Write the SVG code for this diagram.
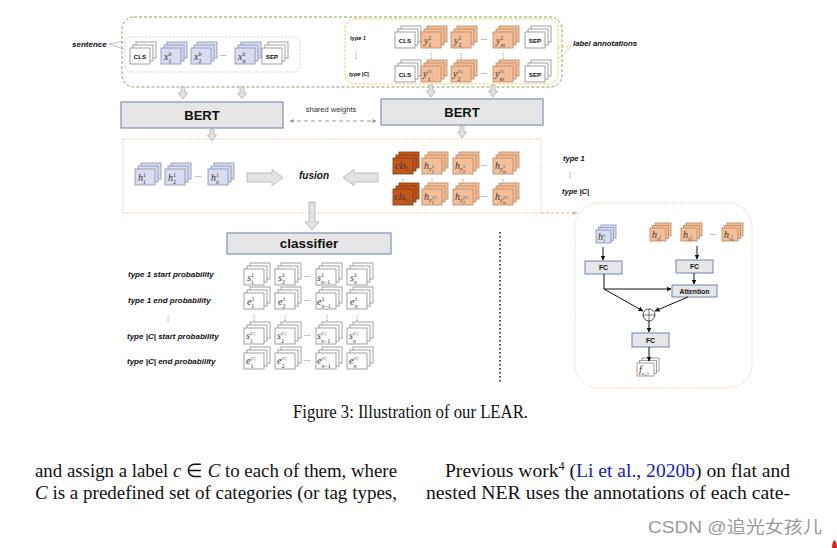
<svg xmlns="http://www.w3.org/2000/svg" width="837" height="548" viewBox="0 0 837 548">
<style>
.lbl{font-family:"Liberation Sans",Arial,sans-serif;font-weight:bold;font-style:italic;fill:#111}
.tok{font-family:"Liberation Sans",Arial,sans-serif;font-weight:bold;font-size:6.2px;fill:#111;text-anchor:middle}
.m{font-family:"Liberation Serif","Times New Roman",serif;font-style:italic;font-size:10px;fill:#333}
.sm{font-size:6px;font-style:normal}
.si{font-size:6px;font-style:italic}
.ss{font-size:4.8px;font-style:normal}
.dots{font-family:"DejaVu Sans",sans-serif;font-size:7px;fill:#333;text-anchor:middle}
.box{fill:#e6e6e6;stroke:#7f92bb;stroke-width:1.2}
.big{font-family:"Liberation Sans",Arial,sans-serif;font-weight:bold;fill:#111;text-anchor:middle}
.blk{fill:#e3e3e3;stroke:#b0b0b0;stroke-width:0.8}
.ln{stroke:#111;stroke-width:1;fill:none}
.fc{fill:#e6e6e6;stroke:#6f86b5;stroke-width:1}
.fct{font-family:"Liberation Sans",Arial,sans-serif;font-weight:bold;font-size:6.8px;fill:#111;text-anchor:middle}
.body{font-family:"Liberation Serif","Times New Roman",serif;font-size:19px;fill:#111}
.w{fill:#fff;stroke:#8a8a8a;stroke-width:0.8}
.b{fill:#d9ddef;stroke:#8590b5;stroke-width:0.8}
.o{fill:#f4bf98;stroke:#b98660;stroke-width:0.8}
.d{fill:#c4581c;stroke:#7d3a10;stroke-width:0.8}
</style>
<defs>
<g id="stW" class="w"><rect x="6" y="-6" width="20" height="16"/><rect x="3" y="-3" width="20" height="16"/><rect x="0" y="0" width="20" height="16"/></g>
<g id="stB" class="b"><rect x="6" y="-6" width="20" height="16"/><rect x="3" y="-3" width="20" height="16"/><rect x="0" y="0" width="20" height="16"/></g>
<g id="stO" class="o"><rect x="6" y="-6" width="20" height="16"/><rect x="3" y="-3" width="20" height="16"/><rect x="0" y="0" width="20" height="16"/></g>
<g id="stD" class="d"><rect x="6" y="-6" width="20" height="16"/><rect x="3" y="-3" width="20" height="16"/><rect x="0" y="0" width="20" height="16"/></g>
<g id="pB" class="b"><rect x="5" y="-5" width="15" height="13"/><rect x="2.5" y="-2.5" width="15" height="13"/><rect x="0" y="0" width="15" height="13"/></g>
<g id="pO" class="o"><rect x="5" y="-5" width="16" height="13"/><rect x="2.5" y="-2.5" width="16" height="13"/><rect x="0" y="0" width="16" height="13"/></g>
<g id="pW" class="w"><rect x="5" y="-5" width="17" height="13"/><rect x="2.5" y="-2.5" width="17" height="13"/><rect x="0" y="0" width="17" height="13"/></g>
<marker id="ah" viewBox="0 0 10 10" refX="9" refY="5" markerWidth="5" markerHeight="5" orient="auto"><path d="M0,0 L10,5 L0,10 Z" fill="#111"/></marker>
<marker id="ag" viewBox="0 0 10 10" refX="9" refY="5" markerWidth="4" markerHeight="4" orient="auto-start-reverse"><path d="M0,0 L10,5 L0,10 Z" fill="#999"/></marker>
<marker id="ao" viewBox="0 0 10 10" refX="9" refY="5" markerWidth="5" markerHeight="5" orient="auto"><path d="M0,0 L10,5 L0,10 Z" fill="#f0b48a"/></marker>
</defs>

<!-- input frame -->
<g id="inputs">
<rect x="122" y="17" width="440" height="70" rx="12" fill="none" stroke="#7fa65c" stroke-width="1" stroke-dasharray="3 2"/>
<text class="lbl" x="72" y="47" font-size="8">sentence</text>
<path d="M109,44 L124,41 M109,44 L124,49" stroke="#a0a8c0" stroke-width="0.7" fill="none"/>
</g>

<g id="sentence">
<rect x="125" y="37" width="175" height="35" rx="6" fill="none" stroke="#c9cfe0" stroke-width="1" stroke-dasharray="2 1.5"/>
<use href="#stW" x="130" y="48"/><text class="tok" x="140" y="58.5">CLS</text>
<use href="#stB" x="161" y="48"/><text class="m" x="164" y="60">x<tspan class="si" dy="-4.5">b</tspan><tspan class="sm" dx="-3" dy="7.5">1</tspan></text>
<use href="#stB" x="191" y="48"/><text class="m" x="194" y="60">x<tspan class="si" dy="-4.5">b</tspan><tspan class="sm" dx="-3" dy="7.5">2</tspan></text>
<text class="dots" x="223" y="58">···</text>
<use href="#stB" x="235" y="48"/><text class="m" x="238" y="60">x<tspan class="si" dy="-4.5">b</tspan><tspan class="sm" dx="-3" dy="7.5">n</tspan></text>
<use href="#stW" x="262" y="48"/><text class="tok" x="272" y="58.5">SEP</text>
</g>

<g id="annotations">
<rect x="345" y="19" width="213" height="65" rx="10" fill="none" stroke="#f1cd58" stroke-width="1" stroke-dasharray="2.5 1.5"/>
<path d="M558,48 L571,46 L558,60" fill="none" stroke="#f1cd58" stroke-width="1" stroke-dasharray="2.5 1.5"/>
<text class="lbl" x="573" y="46" font-size="7.8">label annotations</text>
<text class="lbl" x="350" y="40" font-size="5.5">type 1</text>
<text class="dots" x="356" y="58">⋮</text>
<text class="lbl" x="349" y="76" font-size="5.5">type |C|</text>
<use href="#stW" x="395" y="32"/><text class="tok" x="405" y="42.5">CLS</text>
<use href="#stO" x="421" y="32"/><text class="m" x="424" y="44">y<tspan class="sm" dy="-4.5">1</tspan><tspan class="sm" dx="-3" dy="7.5">1</tspan></text>
<use href="#stO" x="451" y="32"/><text class="m" x="454" y="44">y<tspan class="sm" dy="-4.5">1</tspan><tspan class="sm" dx="-3" dy="7.5">2</tspan></text>
<text class="dots" x="484" y="42">···</text>
<use href="#stO" x="493" y="32"/><text class="m" x="496" y="44">y<tspan class="sm" dy="-4.5">1</tspan><tspan class="si" dx="-3" dy="7.5">m</tspan></text>
<use href="#stW" x="525" y="32"/><text class="tok" x="535" y="42.5">SEP</text>
<text class="dots" x="431" y="58">⋮</text><text class="dots" x="461" y="58">⋮</text><text class="dots" x="503" y="58">⋮</text>
<use href="#stW" x="395" y="66"/><text class="tok" x="405" y="76.5">CLS</text>
<use href="#stO" x="421" y="66"/><text class="m" x="423" y="77">y<tspan class="ss" dy="-4.5">|C|</tspan><tspan class="sm" dx="-5.1" dy="8.5">1</tspan></text>
<use href="#stO" x="451" y="66"/><text class="m" x="453" y="77">y<tspan class="ss" dy="-4.5">|C|</tspan><tspan class="sm" dx="-5.1" dy="8.5">2</tspan></text>
<text class="dots" x="484" y="76">···</text>
<use href="#stO" x="493" y="66"/><text class="m" x="495" y="77">y<tspan class="ss" dy="-4.5">|C|</tspan><tspan class="si" dx="-5.1" dy="8.5">m</tspan></text>
<use href="#stW" x="525" y="66"/><text class="tok" x="535" y="76.5">SEP</text>
</g>

<g id="bert-left"><rect class="box" x="121" y="102" width="162" height="26"/><text class="big" x="202" y="120" font-size="13">BERT</text></g>
<g id="bert-right"><rect class="box" x="381" y="99" width="162" height="26"/><text class="big" x="462" y="117" font-size="13">BERT</text></g>
<text font-family="Liberation Sans, Arial, sans-serif" font-size="7.5" fill="#333" text-anchor="middle" x="331" y="112">shared weights</text>

<g id="fusion">
<path d="M123,139 H541 V213 H123 Z" fill="none" stroke="#f3bf9c" stroke-width="1" stroke-dasharray="1.5 1.2"/>
<use href="#stB" x="135" y="169"/><text class="m" x="138" y="181">h<tspan class="sm" dy="-4.5">1</tspan><tspan class="sm" dx="-3" dy="7.5">1</tspan></text>
<use href="#stB" x="165" y="169"/><text class="m" x="168" y="181">h<tspan class="sm" dy="-4.5">1</tspan><tspan class="sm" dx="-3" dy="7.5">2</tspan></text>
<text class="dots" x="198" y="179">···</text>
<use href="#stB" x="208" y="169"/><text class="m" x="211" y="181">h<tspan class="sm" dy="-4.5">1</tspan><tspan class="si" dx="-3" dy="7.5">n</tspan></text>
<text class="lbl" x="314" y="179" font-size="10" text-anchor="middle">fusion</text>
<use href="#stD" x="393" y="158"/><text class="m" x="395" y="169">cls<tspan class="sm" dy="2">1</tspan></text>
<use href="#stO" x="422" y="158"/><text class="m" x="424" y="169">h<tspan class="si" dy="2">y</tspan><tspan class="ss" dy="-3">1</tspan><tspan class="ss" dx="-2.4" dy="4.5">1</tspan></text>
<use href="#stO" x="453" y="158"/><text class="m" x="455" y="169">h<tspan class="si" dy="2">y</tspan><tspan class="ss" dy="-3">1</tspan><tspan class="ss" dx="-2.4" dy="4.5">2</tspan></text>
<text class="dots" x="484" y="168">···</text>
<use href="#stO" x="493" y="158"/><text class="m" x="495" y="169">h<tspan class="si" dy="2">y</tspan><tspan class="ss" dy="-3">1</tspan><tspan class="si" style="font-size:4.8px" dx="-2.4" dy="4.5">m</tspan></text>
<text class="dots" x="403" y="184">⋮</text><text class="dots" x="432" y="184">⋮</text><text class="dots" x="463" y="184">⋮</text><text class="dots" x="503" y="184">⋮</text>
<use href="#stD" x="393" y="189"/><text class="m" x="394" y="200">cls<tspan class="ss" dy="2">|C|</tspan></text>
<use href="#stO" x="422" y="189"/><text class="m" x="424" y="200">h<tspan class="si" dy="2">y</tspan><tspan class="ss" dy="-3">|C|</tspan><tspan class="ss" dx="-5.1" dy="4.5">1</tspan></text>
<use href="#stO" x="453" y="189"/><text class="m" x="455" y="200">h<tspan class="si" dy="2">y</tspan><tspan class="ss" dy="-3">|C|</tspan><tspan class="ss" dx="-5.1" dy="4.5">2</tspan></text>
<text class="dots" x="484" y="199">···</text>
<use href="#stO" x="493" y="189"/><text class="m" x="495" y="200">h<tspan class="si" dy="2">y</tspan><tspan class="ss" dy="-3">|C|</tspan><tspan class="si" style="font-size:4.8px" dx="-5.1" dy="4.5">m</tspan></text>
<text class="lbl" x="563" y="161" font-size="7.5">type 1</text>
<text class="dots" x="570" y="177">⋮</text>
<text class="lbl" x="562" y="194" font-size="7.5">type |C|</text>
</g>

<g id="classifier"><rect class="box" x="227" y="233" width="164" height="21"/><text class="big" x="309" y="248" font-size="13.5">classifier</text></g>

<g id="probabilities">
<text class="lbl" x="128" y="277" font-size="8">type 1 start probability</text>
<text class="lbl" x="128" y="303" font-size="8">type 1 end probability</text>
<text class="dots" x="168" y="321" font-size="8">⋮</text>
<text class="lbl" x="127" y="339" font-size="8">type |C| start probability</text>
<text class="lbl" x="127" y="364" font-size="8">type |C| end probability</text>
<use href="#stW" x="244" y="269"/><text class="m" x="247" y="281">s<tspan class="sm" dy="-4.5">1</tspan><tspan class="sm" dx="-3" dy="7.5">1</tspan></text>
<use href="#stW" x="275" y="269"/><text class="m" x="278" y="281">s<tspan class="sm" dy="-4.5">1</tspan><tspan class="sm" dx="-3" dy="7.5">2</tspan></text>
<text class="dots" x="307" y="279">···</text>
<use href="#stW" x="316" y="269"/><text class="m" x="317" y="281">s<tspan class="sm" dy="-4.5">1</tspan><tspan class="si" dx="-3" dy="7.5">n</tspan><tspan class="sm">−1</tspan></text>
<use href="#stW" x="347" y="269"/><text class="m" x="350" y="281">s<tspan class="sm" dy="-4.5">1</tspan><tspan class="si" dx="-3" dy="7.5">n</tspan></text>
<use href="#stW" x="244" y="293"/><text class="m" x="247" y="305">e<tspan class="sm" dy="-4.5">1</tspan><tspan class="sm" dx="-3" dy="7.5">1</tspan></text>
<use href="#stW" x="275" y="293"/><text class="m" x="278" y="305">e<tspan class="sm" dy="-4.5">1</tspan><tspan class="sm" dx="-3" dy="7.5">2</tspan></text>
<text class="dots" x="307" y="303">···</text>
<use href="#stW" x="316" y="293"/><text class="m" x="317" y="305">e<tspan class="sm" dy="-4.5">1</tspan><tspan class="si" dx="-3" dy="7.5">n</tspan><tspan class="sm">−1</tspan></text>
<use href="#stW" x="347" y="293"/><text class="m" x="350" y="305">e<tspan class="sm" dy="-4.5">1</tspan><tspan class="si" dx="-3" dy="7.5">n</tspan></text>
<text class="dots" x="254" y="320">⋮</text><text class="dots" x="285" y="320">⋮</text><text class="dots" x="327" y="320">⋮</text><text class="dots" x="357" y="320">⋮</text>
<use href="#stW" x="244" y="328"/><text class="m" x="246" y="339">s<tspan class="ss" dy="-4.5">|C|</tspan><tspan class="sm" dx="-5.1" dy="8.5">1</tspan></text>
<use href="#stW" x="275" y="328"/><text class="m" x="277" y="339">s<tspan class="ss" dy="-4.5">|C|</tspan><tspan class="sm" dx="-5.1" dy="8.5">2</tspan></text>
<text class="dots" x="307" y="338">···</text>
<use href="#stW" x="316" y="328"/><text class="m" x="317" y="339">s<tspan class="ss" dy="-4.5">|C|</tspan><tspan class="si" dx="-5.1" dy="8.5">n</tspan><tspan class="sm">−1</tspan></text>
<use href="#stW" x="347" y="328"/><text class="m" x="349" y="339">s<tspan class="ss" dy="-4.5">|C|</tspan><tspan class="si" dx="-5.1" dy="8.5">n</tspan></text>
<use href="#stW" x="244" y="353"/><text class="m" x="246" y="364">e<tspan class="ss" dy="-4.5">|C|</tspan><tspan class="sm" dx="-5.1" dy="8.5">1</tspan></text>
<use href="#stW" x="275" y="353"/><text class="m" x="277" y="364">e<tspan class="ss" dy="-4.5">|C|</tspan><tspan class="sm" dx="-5.1" dy="8.5">2</tspan></text>
<text class="dots" x="307" y="363">···</text>
<use href="#stW" x="316" y="353"/><text class="m" x="317" y="364">e<tspan class="ss" dy="-4.5">|C|</tspan><tspan class="si" dx="-5.1" dy="8.5">n</tspan><tspan class="sm">−1</tspan></text>
<use href="#stW" x="347" y="353"/><text class="m" x="349" y="364">e<tspan class="ss" dy="-4.5">|C|</tspan><tspan class="si" dx="-5.1" dy="8.5">n</tspan></text>
</g>

<line x1="500" y1="232" x2="500" y2="384" stroke="#111" stroke-width="1.5" stroke-dasharray="1.5 2.5"/>

<g id="detail-panel">
<rect x="575" y="203" width="177" height="185" rx="24" fill="none" stroke="#f5cdb0" stroke-width="1" stroke-dasharray="1.5 1.2"/>
<use href="#pB" x="596" y="230"/><text class="m" x="598" y="240" font-size="8">h<tspan class="ss" dy="-3.5">1</tspan><tspan class="ss" dx="-2.4" dy="5.5">1</tspan></text>
<use href="#pO" x="650" y="228"/><text class="m" x="652" y="238" font-size="8">h<tspan class="ss" style="font-style:italic" dy="2">y</tspan><tspan class="ss" style="font-size:3.5px" dy="-2.5">1</tspan><tspan class="ss" style="font-size:3.5px" dx="-1.8" dy="3.5">1</tspan></text>
<use href="#pO" x="681" y="228"/><text class="m" x="683" y="238" font-size="8">h<tspan class="ss" style="font-style:italic" dy="2">y</tspan><tspan class="ss" style="font-size:3.5px" dy="-2.5">1</tspan><tspan class="ss" style="font-size:3.5px" dx="-1.8" dy="3.5">2</tspan></text>
<text class="dots" x="713" y="237">···</text>
<use href="#pO" x="722" y="228"/><text class="m" x="724" y="238" font-size="8">h<tspan class="ss" style="font-style:italic" dy="2">y</tspan><tspan class="ss" style="font-size:3.5px" dy="-2.5">1</tspan><tspan class="ss" style="font-size:3.5px;font-style:italic" dx="-1.8" dy="3.5">m</tspan></text>
<rect class="fc" x="585" y="261" width="37" height="13"/><text class="fct" x="603.5" y="270">FC</text>
<rect class="fc" x="676" y="260" width="37" height="13"/><text class="fct" x="694.5" y="269">FC</text>
<rect class="fc" x="672" y="285" width="45" height="12"/><text class="fct" x="694.5" y="293.5" font-size="6.5">Attention</text>
<circle cx="649" cy="315" r="6" fill="#fff" stroke="#222" stroke-width="0.8"/>
<path d="M643,315 H655 M649,309 V321" stroke="#222" stroke-width="0.6"/>
<rect class="fc" x="632" y="333" width="37" height="14"/><text class="fct" x="650.5" y="342.5">FC</text>
<use href="#pW" x="637" y="363"/><text class="m" x="639" y="373" font-size="8">f<tspan class="ss" style="font-style:italic" dy="2">x</tspan><tspan class="ss" style="font-size:3.5px" dy="1">1</tspan><tspan class="ss" dy="-1">,1</tspan></text>
</g>

<g id="connectors">
<path class="blk" d="M181,87 H185 V93 H187.5 L183,99 L178.5,93 H181 Z"/>
<path class="blk" d="M240,87 H244 V93 H246.5 L242,99 L237.5,93 H240 Z"/>
<path class="blk" d="M429,85 H433 V91 H435.5 L431,97 L426.5,91 H429 Z"/>
<path class="blk" d="M491,85 H495 V91 H497.5 L493,97 L488.5,91 H491 Z"/>
<path class="blk" d="M210,129 H214 V135 H216.5 L212,141 L207.5,135 H210 Z"/>
<path class="blk" d="M460,126 H464 V132 H466.5 L462,138 L457.5,132 H460 Z"/>
<path class="blk" d="M309,202 H315 V222 H319 L312,230 L305,222 H309 Z"/>
<path class="blk" d="M247,173 H272 V169.5 L283,177.5 L272,185.5 V182 H247 Z"/>
<path class="blk" d="M378,173 H354 V169.5 L343,177.5 L354,185.5 V182 H378 Z"/>
<line x1="290" y1="121" x2="376" y2="121" stroke="#999" stroke-width="1" stroke-dasharray="4 3" marker-start="url(#ag)" marker-end="url(#ag)"/>
<path d="M541,213 H577" fill="none" stroke="#f0b48a" stroke-width="1" stroke-dasharray="3 2" marker-end="url(#ao)"/>
<line class="ln" x1="603" y1="247" x2="603" y2="260" marker-end="url(#ah)"/>
<line class="ln" x1="697" y1="246" x2="697" y2="259" marker-end="url(#ah)"/>
<line class="ln" x1="694" y1="273" x2="694" y2="284" marker-end="url(#ah)"/>
<path class="ln" d="M604,274 V289 H671" marker-end="url(#ah)"/>
<line class="ln" x1="604" y1="289" x2="643" y2="311" marker-end="url(#ah)"/>
<line class="ln" x1="688" y1="297" x2="655" y2="311" marker-end="url(#ah)"/>
<line class="ln" x1="649" y1="321" x2="649" y2="332" marker-end="url(#ah)"/>
<line class="ln" x1="649" y1="347" x2="649" y2="361" marker-end="url(#ah)"/>
</g>

<g id="caption">
<text class="body" x="293" y="418" font-size="16" textLength="235" lengthAdjust="spacingAndGlyphs">Figure 3: Illustration of our LEAR.</text>
<text class="body" x="35" y="477" textLength="362" lengthAdjust="spacingAndGlyphs">and assign a label <tspan font-style="italic">c</tspan> ∈ <tspan font-style="italic">C</tspan> to each of them, where</text>
<text class="body" x="35" y="499" textLength="362" lengthAdjust="spacingAndGlyphs"><tspan font-style="italic">C</tspan> is a predefined set of categories (or tag types,</text>
<text class="body" x="445" y="477" textLength="345" lengthAdjust="spacingAndGlyphs">Previous work<tspan font-size="12" dy="-7">4</tspan><tspan dy="7"> (</tspan><tspan fill="#1a1ab8">Li et al.</tspan>, <tspan fill="#1a1ab8">2020b</tspan>) on flat and</text>
<text class="body" x="426" y="499" textLength="364" lengthAdjust="spacingAndGlyphs">nested NER uses the annotations of each cate-</text>
<text x="648" y="533" font-family="Liberation Sans, Noto Sans CJK SC, sans-serif" font-size="17" fill="#9a9a9a" textLength="174" lengthAdjust="spacingAndGlyphs">CSDN @追光女孩儿</text>
<path d="M834,540 Q837,541 837,548 H832 Q832,543 834,540 Z" fill="#e02020"/>
</g>
</svg>
